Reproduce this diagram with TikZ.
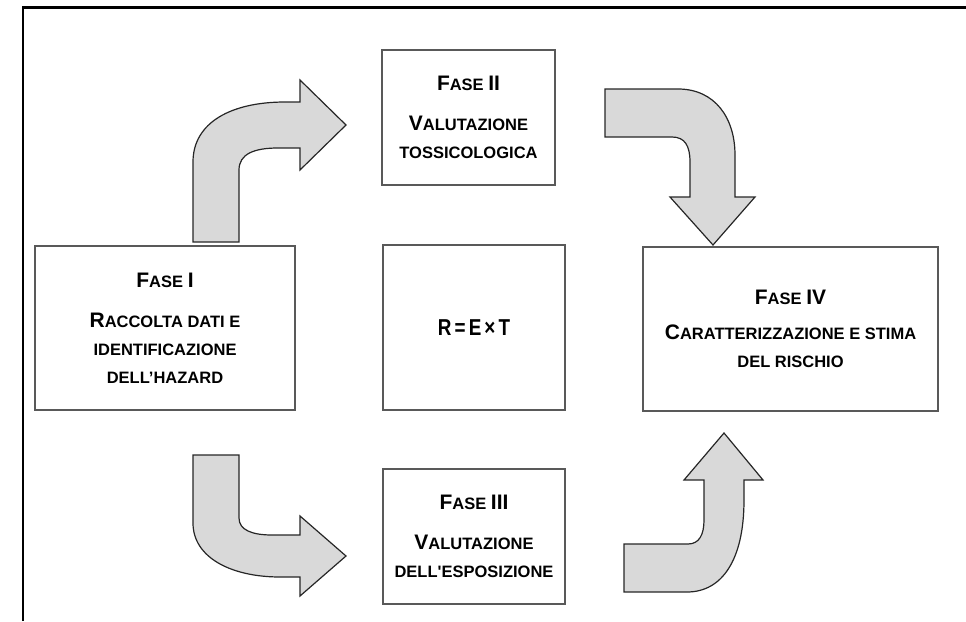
\documentclass[tikz,border=0pt]{standalone}
\usepackage{fontspec}
\usepackage{graphicx}
\setmainfont{Liberation Sans}
\newcommand\bigc[1]{{\fontsize{21}{28}\selectfont #1}}
\begin{document}
\begin{tikzpicture}[x=1pt,y=-1pt,
  phase/.style={draw=black!65,line width=1.5pt,fill=white,inner sep=0pt,align=center,
    font=\bfseries\fontsize{16.5}{28}\selectfont},
  blockarrow/.style={draw=black!85,line width=1.2pt,fill=black!15,line join=miter}]
\useasboundingbox (0,0) rectangle (966,621);
\draw[line width=2.5pt] (23,621) -- (23,7.5) -- (966,7.5);

\node[phase,minimum width=260,minimum height=164] (f1) at (165,328)
  {\bigc{F}ASE \bigc{I}\\[12pt]\bigc{R}ACCOLTA DATI E\\IDENTIFICAZIONE\\DELL’HAZARD};
\node[phase,minimum width=173,minimum height=135] (f2) at (468.5,117.5)
  {\bigc{F}ASE \bigc{II}\\[12pt]\bigc{V}ALUTAZIONE\\TOSSICOLOGICA};
\node[phase,minimum width=182,minimum height=165] (r) at (474,327.5)
  {\scalebox{0.82}[1]{\fontsize{23}{28}\selectfont R\,=\,E\,×\,T}};
\node[phase,minimum width=182,minimum height=135] (f3) at (474,536.5)
  {\bigc{F}ASE \bigc{III}\\[12pt]\bigc{V}ALUTAZIONE\\DELL\textquotesingle ESPOSIZIONE};
\node[phase,minimum width=295,minimum height=164] (f4) at (790.5,329)
  {\bigc{F}ASE \bigc{IV}\\[7pt]\bigc{C}ARATTERIZZAZIONE E STIMA\\DEL RISCHIO};

% arrow I -> II
\draw[blockarrow] (193,242) -- (193,162) .. controls (193,122) and (232,102) .. (285,102)
  -- (300,102) -- (300,80) -- (346,125) -- (300,170) -- (300,148) -- (278,148)
  .. controls (254,148) and (239,154) .. (239,170) -- (239,242) -- cycle;
% arrow II -> IV
\draw[blockarrow] (605,89) -- (678,89) .. controls (715,89) and (735,118) .. (735,155)
  -- (735,197) -- (755,197) -- (713,245) -- (670,197) -- (690,197) -- (690,162)
  .. controls (690,146) and (685,137) .. (672,137) -- (605,137) -- cycle;
% arrow I -> III
\draw[blockarrow] (193,455) -- (239,455) -- (239,518) .. controls (239,530) and (252,535) .. (272,535)
  -- (300,535) -- (300,516) -- (346,556) -- (300,596) -- (300,577) -- (280,577)
  .. controls (232,577) and (193,558) .. (193,523) -- cycle;
% arrow III -> IV
\draw[blockarrow] (624,544) -- (688,544) .. controls (699,544) and (704,535) .. (704,520)
  -- (704,480) -- (684,480) -- (724,433) -- (763,480) -- (744,480) -- (744,500)
  .. controls (744,560) and (722,592) .. (687,592) -- (624,592) -- cycle;
\end{tikzpicture}
\end{document}
